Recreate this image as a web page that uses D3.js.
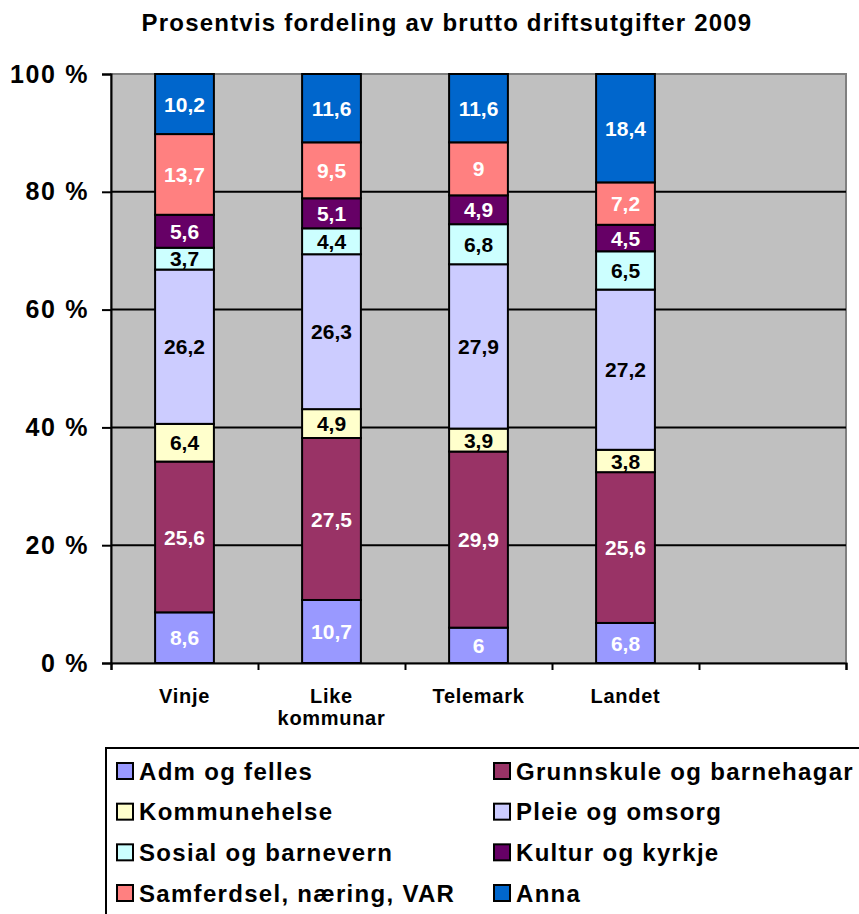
<!DOCTYPE html>
<html>
<head>
<meta charset="utf-8">
<script src="https://cdn.jsdelivr.net/npm/d3@7"></script>
<style>
  body { margin: 0; background: #fff; }
  text { font-family: "Liberation Sans", Arial, sans-serif; font-weight: bold; }
</style>
</head>
<body>
<div id="vis"></div>
<script>
// categories (last slot is empty in the original chart)
const categories = ['Vinje', 'Like kommunar', 'Telemark', 'Landet', ''];
const seriesNames = ['Adm og felles', 'Grunnskule og barnehagar', 'Kommunehelse', 'Pleie og omsorg',
  'Sosial og barnevern', 'Kultur og kyrkje', 'Samferdsel, næring, VAR', 'Anna'];
const seriesColors = ['#9999FF', '#993366', '#FFFFCC', '#CCCCFF', '#CCFFFF', '#660066', '#FF8080', '#0066CC'];
const labelColors = ['#fff', '#fff', '#000', '#000', '#000', '#fff', '#fff', '#fff'];

// values per series, in order Vinje, Like kommunar, Telemark, Landet
const admValues = [8.6, 10.7, 6, 6.8];
const grunnskuleValues = [25.6, 27.5, 29.9, 25.6];
const helseValues = [6.4, 4.9, 3.9, 3.8];
const pleieValues = [26.2, 26.3, 27.9, 27.2];
const sosialValues = [3.7, 4.4, 6.8, 6.5];
const kulturValues = [5.6, 5.1, 4.9, 4.5];
const samferdselValues = [13.7, 9.5, 9, 7.2];
const annaValues = [10.2, 11.6, 11.6, 18.4];

const yTicks = [0, 20, 40, 60, 80, 100];

const allValues = [admValues, grunnskuleValues, helseValues, pleieValues,
  sosialValues, kulturValues, samferdselValues, annaValues];

// Constants for sizing
let width = 859;
let height = 914;
let plot = { left: 111, top: 74, right: 846, bottom: 663 };

let svg = d3.select('#vis')
  .append('svg')
  .attr('width', width)
  .attr('height', height);

// title
svg.append('text')
  .attr('x', 447)
  .attr('y', 31)
  .attr('text-anchor', 'middle')
  .style('font-size', '24px')
  .style('letter-spacing', '1.2px')
  .text('Prosentvis fordeling av brutto driftsutgifter 2009');

let x = d3.scaleBand()
  .domain(categories)
  .range([plot.left, plot.right])
  .paddingInner(0.6)
  .paddingOuter(0.3);

let y = d3.scaleLinear()
  .domain([0, 100])
  .range([plot.bottom, plot.top]);

// plot background
svg.append('rect')
  .attr('x', plot.left)
  .attr('y', plot.top)
  .attr('width', plot.right - plot.left)
  .attr('height', plot.bottom - plot.top)
  .attr('fill', '#C0C0C0')
  .attr('stroke', '#808080')
  .attr('stroke-width', 2);

// gridlines
svg.append('g')
  .selectAll('line')
  .data(yTicks.filter(d => d > 0 && d < 100))
  .enter().append('line')
  .attr('x1', plot.left)
  .attr('x2', plot.right)
  .attr('y1', d => y(d))
  .attr('y2', d => y(d))
  .attr('stroke', '#000')
  .attr('stroke-width', 2);

// stack the data
let table = categories.slice(0, 4).map((c, i) => {
  let row = { cat: c };
  seriesNames.forEach((s, j) => { row[s] = allValues[j][i]; });
  return row;
});
let stacked = d3.stack().keys(seriesNames)(table);

let layers = svg.append('g')
  .selectAll('g')
  .data(stacked)
  .enter().append('g')
  .attr('fill', (d, i) => seriesColors[i]);

layers.selectAll('rect')
  .data(d => d)
  .enter().append('rect')
  .attr('x', d => x(d.data.cat))
  .attr('y', d => y(d[1]))
  .attr('width', x.bandwidth())
  .attr('height', d => y(d[0]) - y(d[1]))
  .attr('stroke', '#000')
  .attr('stroke-width', 2);

layers.selectAll('text')
  .data((d, i) => d.map(p => ({ p: p, i: i })))
  .enter().append('text')
  .attr('x', d => x(d.p.data.cat) + x.bandwidth() / 2)
  .attr('y', d => (y(d.p[0]) + y(d.p[1])) / 2)
  .attr('dy', '0.36em')
  .attr('text-anchor', 'middle')
  .attr('fill', d => labelColors[d.i])
  .style('font-size', '21px')
  .style('letter-spacing', '0px')
  .text(d => String(d.p.data[seriesNames[d.i]]).replace('.', ','));

// y axis
let yAxis = svg.append('g')
  .attr('transform', 'translate(' + plot.left + ',0)')
  .call(d3.axisLeft(y).tickValues(yTicks).tickSize(9).tickPadding(13)
    .tickFormat(d => d + ' %'));
yAxis.selectAll('line').attr('stroke', '#000').attr('stroke-width', 2);
yAxis.select('.domain').attr('stroke', '#000').attr('stroke-width', 2);
yAxis.selectAll('text')
  .style('font-size', '25px')
  .style('letter-spacing', '1.6px')
  .style('font-family', '"Liberation Sans", Arial, sans-serif')
  .attr('fill', '#000');

// x axis: ticks at slot boundaries
let xBounds = d3.scaleLinear().domain([0, categories.length]).range([plot.left, plot.right]);
let xAxis = svg.append('g')
  .attr('transform', 'translate(0,' + plot.bottom + ')')
  .call(d3.axisBottom(xBounds).ticks(categories.length).tickSize(7).tickFormat(''));
xAxis.selectAll('line').attr('stroke', '#000').attr('stroke-width', 2);
xAxis.select('.domain').attr('stroke', '#000').attr('stroke-width', 2);

// category labels
let catLabels = svg.append('g')
  .selectAll('text')
  .data(categories)
  .enter().append('text')
  .attr('x', d => x(d) + x.bandwidth() / 2)
  .attr('y', 703)
  .attr('text-anchor', 'middle')
  .style('font-size', '20px')
  .style('letter-spacing', '0.7px');
catLabels.each(function (d) {
  let words = d === 'Like kommunar' ? ['Like', 'kommunar'] : [d];
  d3.select(this).selectAll('tspan')
    .data(words)
    .enter().append('tspan')
    .attr('x', x(d) + x.bandwidth() / 2)
    .attr('dy', (w, i) => i === 0 ? 0 : 22)
    .text(w => w);
});

// legend
let legend = svg.append('g');
legend.append('rect')
  .attr('x', 106)
  .attr('y', 748)
  .attr('width', 780)
  .attr('height', 200)
  .attr('fill', '#fff')
  .attr('stroke', '#000')
  .attr('stroke-width', 2);

let colX = [117, 494];
let rowY = d3.scalePoint().domain([0, 1, 2, 3]).range([771, 893]);

let items = legend.selectAll('g.item')
  .data(seriesNames)
  .enter().append('g')
  .attr('class', 'item')
  .attr('transform', (d, i) => 'translate(' + colX[i % 2] + ',' + rowY(Math.floor(i / 2)) + ')');

items.append('rect')
  .attr('x', 0)
  .attr('y', -8)
  .attr('width', 16)
  .attr('height', 16)
  .attr('fill', (d, i) => seriesColors[i])
  .attr('stroke', '#000')
  .attr('stroke-width', 2);

items.append('text')
  .attr('x', 22)
  .attr('dy', '0.36em')
  .style('font-size', '24px')
  .style('letter-spacing', '1.3px')
  .text(d => d);
</script>
</body>
</html>
